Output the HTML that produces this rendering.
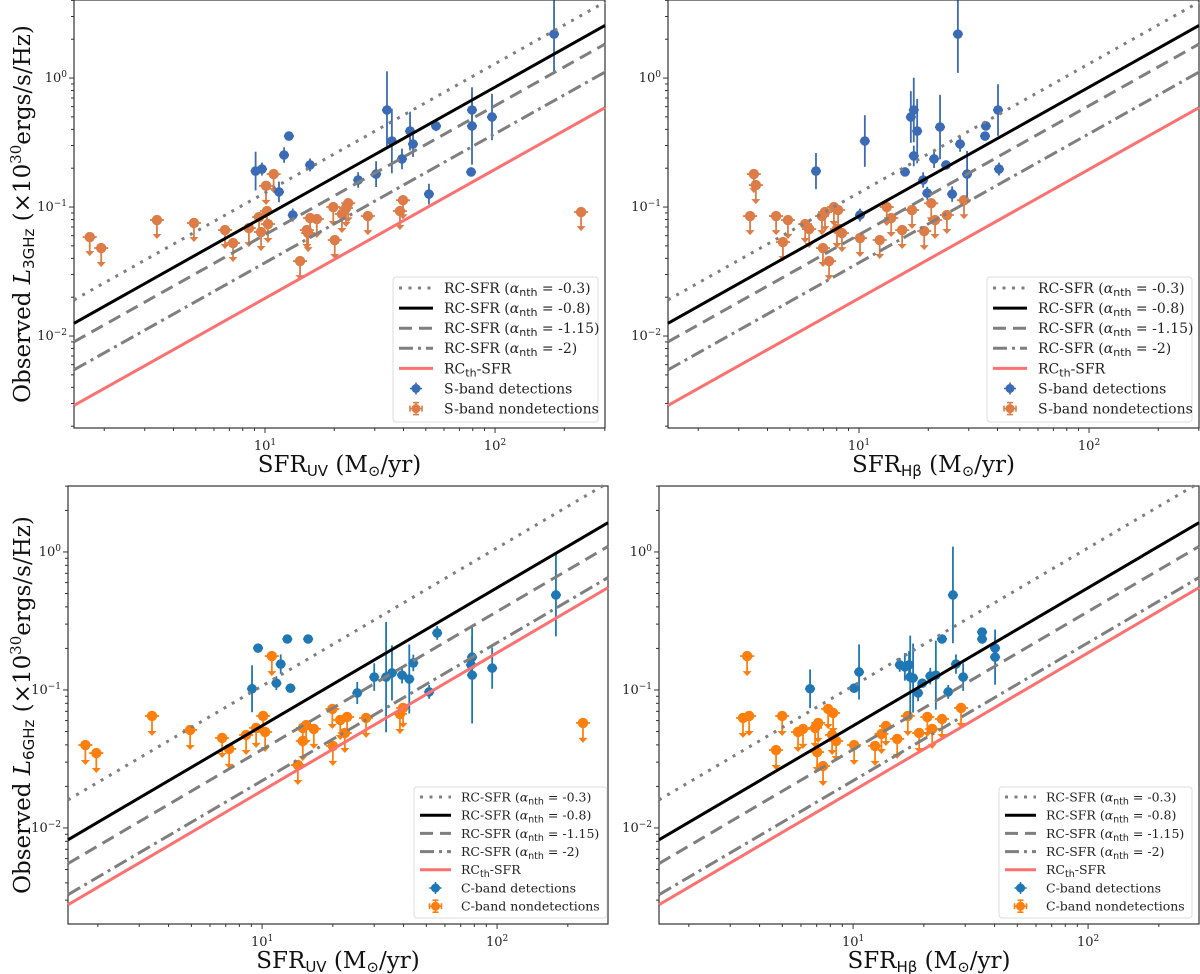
<!DOCTYPE html>
<html><head><meta charset="utf-8">
<style>
html,body{margin:0;padding:0;background:#fff;}
svg{display:block;font-family:"DejaVu Serif","Liberation Serif",serif;}
</style></head>
<body>
<svg id="fig" width="1200" height="974" viewBox="0 0 1200 974" xmlns="http://www.w3.org/2000/svg"></svg>
<script>
// ===== Data =====
// Relation coefficients L = k * SFR for each model line
const lineLabels = ["-0.3","-0.8","-1.15","-2"];
const topLineK = [0.0129,0.0085,0.0061,0.0037,0.00196];
const botLineK = [0.0107,0.0055,0.0037,0.0022,0.00186];

// Top-left: S-band vs SFR_UV
const tlDetX = [180.5,12.7,12.1,15.7,9.1,9.7,11.5,13.2,25.4,30.4,33.9,35.6,39.4,42.7,44.0,55.4,79.4,79.4,97,78.7,51.6];
const tlDetY = [2.19,0.355,0.253,0.212,0.190,0.197,0.131,0.0867,0.162,0.180,0.565,0.325,0.236,0.388,0.308,0.425,0.565,0.425,0.499,0.187,0.126];
const tlDetErr = [0.3,0.03,0.06,0.05,0.15,0.05,0.08,0.05,0.06,0.1,0.3,0.25,0.08,0.15,0.1,0.04,0.12,0.3,0.18,0.02,0.08];
const tlNonX = [1.73,1.94,3.39,4.91,6.70,7.26,8.51,9.42,9.61,10.2,10.1,10.9,10.3,14.2,15.2,15.7,16.8,15.4,19.8,23.0,22.5,21.6,20.1,28.0,39.8,38.6,236.6];
const tlNonY = [0.0585,0.0481,0.0793,0.0752,0.0663,0.0526,0.0687,0.0836,0.0640,0.0931,0.146,0.180,0.0738,0.0381,0.0663,0.0822,0.0807,0.0628,0.1,0.107,0.0982,0.0883,0.0555,0.0851,0.113,0.0931,0.0914];

// Top-right: S-band vs SFR_Hbeta
const trDetX = [26.9,17.3,16.8,17.9,17.3,10.6,6.50,15.85,19.0,19.8,10.1,21.2,22.5,23.9,27.5,29.5,25.4,35.6,35.3,40.2,40.6];
const trDetY = [2.19,0.565,0.499,0.388,0.249,0.325,0.190,0.187,0.162,0.128,0.0867,0.236,0.417,0.212,0.308,0.180,0.126,0.425,0.355,0.565,0.197];
const trDetErr = [0.3,0.25,0.2,0.25,0.08,0.2,0.14,0.02,0.06,0.05,0.05,0.07,0.25,0.03,0.06,0.18,0.06,0.02,0.03,0.2,0.05];
const trNonX = [3.49,3.56,3.36,4.36,4.91,4.67,5.83,6.07,6.90,7.11,7.78,8.11,8.02,8.43,6.97,7.41,10.1,12.3,13.2,13.8,15.4,17.0,19.2,20.6,21.4,24.1,28.6];
const trNonY = [0.180,0.148,0.0851,0.0851,0.0793,0.0535,0.0738,0.0675,0.0851,0.0914,0.1,0.0948,0.0675,0.0628,0.0481,0.0381,0.0575,0.0555,0.1,0.0822,0.0663,0.0948,0.0651,0.107,0.0793,0.0867,0.113];

// Bottom-left: C-band vs SFR_UV
const blDetX = [178,55.6,12.8,15.7,9.61,12.0,11.5,13.2,9.06,25.4,30.0,33.7,35.7,39.4,42.3,44.0,51.4,78.3,77.5,78.3,95.3];
const blDetY = [0.488,0.259,0.234,0.234,0.201,0.154,0.112,0.103,0.102,0.0951,0.124,0.124,0.133,0.128,0.120,0.157,0.0968,0.173,0.152,0.128,0.144];
const blDetErr = [0.3,0.05,0.02,0.02,0.02,0.07,0.05,0.02,0.17,0.08,0.1,0.4,0.2,0.06,0.25,0.06,0.05,0.15,0.05,0.35,0.15];
const blNonX = [1.77,1.97,3.40,4.94,6.76,7.24,8.55,10.1,11.0,9.43,10.3,14.2,14.9,15.4,14.9,16.6,19.9,21.5,23.0,22.5,20.0,27.7,39.8,38.6,232];
const blNonY = [0.0399,0.0349,0.0648,0.0513,0.0449,0.0374,0.0472,0.0648,0.176,0.0531,0.0496,0.0286,0.0531,0.0557,0.0427,0.0522,0.0728,0.0606,0.0637,0.0488,0.0393,0.0627,0.0741,0.0670,0.0577];

// Bottom-right: C-band vs SFR_Hbeta
const brDetX = [26.6,23.9,35.4,35.4,40.2,40.2,10.6,10.1,6.56,15.8,16.6,17.3,17.5,18.0,19.7,18.9,21.3,22.5,27.4,29.4,25.4];
const brDetY = [0.488,0.234,0.263,0.234,0.201,0.173,0.135,0.103,0.102,0.152,0.147,0.152,0.124,0.122,0.112,0.0951,0.126,0.128,0.154,0.124,0.0968];
const brDetErr = [0.35,0.02,0.02,0.02,0.08,0.2,0.2,0.02,0.14,0.05,0.1,0.1,0.3,0.25,0.03,0.06,0.06,0.25,0.07,0.1,0.05];
const brNonX = [3.54,3.40,3.61,4.99,4.70,5.83,6.12,6.89,7.10,7.83,8.22,8.14,8.47,7.03,7.45,10.1,12.4,13.2,13.8,15.4,17.1,19.1,20.7,21.7,23.9,28.8];
const brNonY = [0.176,0.0627,0.0648,0.0648,0.0367,0.0496,0.0522,0.0531,0.0577,0.0728,0.0681,0.0472,0.0427,0.0355,0.0281,0.0399,0.0393,0.0480,0.0548,0.0442,0.0648,0.0488,0.0637,0.0522,0.0616,0.0741];

// ===== Rendering =====
const NS = "http://www.w3.org/2000/svg";
const svg = document.getElementById('fig');
function mk(tag, attrs, parent){
  const e = document.createElementNS(NS, tag);
  for (const k in attrs) e.setAttribute(k, attrs[k]);
  (parent||svg).appendChild(e);
  return e;
}
const lineStyles = [
  {stroke:"#7f7f7f", dash:"3,6.5", cap:"butt"},
  {stroke:"#000", dash:"", cap:"butt"},
  {stroke:"#7f7f7f", dash:"13,7", cap:"butt"},
  {stroke:"#7f7f7f", dash:"14,5,3,5", cap:"butt"},
  {stroke:"#ff7070", dash:"", cap:"butt"}
];

function panel(p){
  const g = mk('g', {});
  
  
  const sx = v => p.x0 + (Math.log10(v) - p.lxmin) / (p.lxmax - p.lxmin) * (p.x1 - p.x0);
  const sy = v => p.y1 - (Math.log10(v) - p.lymin) / (p.lymax - p.lymin) * (p.y1 - p.y0);
  const cid = 'clip-' + p.id;
  const cp = mk('clipPath', {id: cid}, g);
  mk('rect', {x:p.x0, y:p.y0, width:p.x1-p.x0, height:p.y1-p.y0}, cp);
  const plot = mk('g', {'clip-path':'url(#'+cid+')'}, g);
  
  
  // relation lines
  const xa = Math.pow(10, p.lxmin), xb = Math.pow(10, p.lxmax);
  p.k.forEach((k, i) => {
    const st = lineStyles[i];
    const l = mk('line', {x1:sx(xa), y1:sy(k*xa), x2:sx(xb), y2:sy(k*xb), stroke:st.stroke, 'stroke-width':3, 'stroke-dasharray':st.dash});
    
    
  });
  // nondetections
  p.nx.forEach((x, i) => {
    const cx = sx(x), cy = sy(p.ny[i]);
    const m = mk('g', {}, plot);
    
    
    mk('line', {x1:cx-7, y1:cy, x2:cx+7, y2:cy, stroke:p.c2, 'stroke-width':1.8}, m);
    mk('line', {x1:cx, y1:cy, x2:cx, y2:cy+p.arr-4, stroke:p.c2, 'stroke-width':1.8}, m);
    mk('path', {d:`M${cx-4.5},${cy+p.arr-5} L${cx+4.5},${cy+p.arr-5} L${cx},${cy+p.arr} Z`, fill:p.c2}, m);
    mk('circle', {cx:cx, cy:cy, r:5.2, fill:p.c2}, m);
  });
  // detections
  p.dx.forEach((x, i) => {
    const y = p.dy[i], e = p.de[i];
    const cx = sx(x), cy = sy(y);
    const m = mk('g', {}, plot);
    
    
    mk('line', {x1:cx, y1:sy(y*Math.pow(10,e)), x2:cx, y2:sy(y/Math.pow(10,e)), stroke:p.c1, 'stroke-width':1.8}, m);
    mk('line', {x1:cx-5, y1:cy, x2:cx+5, y2:cy, stroke:p.c1, 'stroke-width':1.8}, m);
    mk('circle', {cx:cx, cy:cy, r:4.8, fill:p.c1}, m);
  });
  // frame
  const fr = mk('rect', {x:p.x0, y:p.y0, width:p.x1-p.x0, height:p.y1-p.y0, fill:'none', stroke:'#333', 'stroke-width':1.2}, g);
  
  
  // x ticks
  for (let d = 0; d <= 3; d++) for (let m = 1; m <= 9; m++) {
    const v = m * Math.pow(10, d);
    const lv = Math.log10(v);
    if (lv < p.lxmin || lv > p.lxmax) continue;
    const x = sx(v), len = m === 1 ? 5 : 3;
    mk('line', {x1:x, y1:p.y1, x2:x, y2:p.y1+len, stroke:'#333', 'stroke-width':1}, g);
    if (m === 1) {
      const t = mk('text', {x:x, y:p.y1+22, 'font-size':13, 'text-anchor':'middle', fill:'#222'}, g);
      
      
      t.innerHTML = '10<tspan dy="-5" font-size="9">' + d + '</tspan>';
    }
  }
  // y ticks
  for (let d = -3; d <= 1; d++) for (let m = 1; m <= 9; m++) {
    const v = m * Math.pow(10, d);
    const lv = Math.log10(v);
    if (lv < p.lymin || lv > p.lymax) continue;
    const y = sy(v), len = m === 1 ? 5 : 3;
    mk('line', {x1:p.x0-len, y1:y, x2:p.x0, y2:y, stroke:'#333', 'stroke-width':1}, g);
    if (m === 1) {
      const t = mk('text', {x:p.x0-7, y:y+4, 'font-size':13, 'text-anchor':'end', fill:'#222'}, g);
      
      
      t.innerHTML = '10<tspan dy="-5" font-size="9">' + (d < 0 ? '\u2212' + (-d) : d) + '</tspan>';
    }
  }
  // x label
  const xl = mk('text', {x:(p.x0+p.x1)/2, y:p.y1+44, 'font-size':23, 'text-anchor':'middle', fill:'#111'}, g);
  
  
  xl.innerHTML = 'SFR<tspan font-family="DejaVu Sans, sans-serif" font-size="15" dy="4">' + p.xsub + '</tspan><tspan dy="-4"> (M</tspan><tspan font-size="15" dy="4">\u2299</tspan><tspan dy="-4">/yr)</tspan>';
  // y label
  if (p.ylab) {
    const cy = (p.y0 + p.y1) / 2;
    const yl = mk('text', {x:0, y:0, 'font-size':23, 'text-anchor':'middle', fill:'#111', transform:`translate(30,${cy}) rotate(-90)`}, g);
    
    
    yl.innerHTML = 'Observed <tspan font-style="italic">L</tspan><tspan font-family="DejaVu Sans, sans-serif" font-size="15" dy="4">' + p.ylab + '</tspan><tspan dy="-4"> (\u00d710</tspan><tspan font-size="15" dy="-9">30</tspan><tspan dy="9">ergs/s/Hz)</tspan>';
  }
  // legend
  const L = p.leg;
  const lg = mk('g', {}, g);
  
  
  mk('rect', {x:L.x, y:L.y, width:L.w, height:L.h, rx:3, fill:'#fff', 'fill-opacity':0.85, stroke:'#ddd', 'stroke-width':1}, lg);
  const rows = lineLabels.map(s => 'RC-SFR (<tspan font-style="italic">\u03b1</tspan><tspan font-family="DejaVu Sans, sans-serif" font-size="' + (L.fs-3) + '" dy="3">nth</tspan><tspan dy="-3"> = ' + s + ')</tspan>');
  rows.push('RC<tspan font-family="DejaVu Sans, sans-serif" font-size="' + (L.fs-3) + '" dy="3">th</tspan><tspan dy="-3">-SFR</tspan>');
  rows.push(p.band + '-band detections');
  rows.push(p.band + '-band nondetections');
  rows.forEach((r, i) => {
    const ry = L.y + L.top + i * L.dy;
    const e = mk('g', {}, lg);
    
    
    const lx1 = L.x + 6, lx2 = L.x + L.sw;
    if (i < 5) {
      const st = lineStyles[i];
      mk('line', {x1:lx1, y1:ry, x2:lx2, y2:ry, stroke:st.stroke, 'stroke-width':3, 'stroke-dasharray':st.dash}, e);
    } else {
      const c = i === 5 ? p.c1 : p.c2, mx = (lx1 + lx2) / 2;
      mk('line', {x1:mx, y1:ry-6, x2:mx, y2:ry+6, stroke:c, 'stroke-width':1.6}, e);
      mk('line', {x1:mx-6, y1:ry, x2:mx+6, y2:ry, stroke:c, 'stroke-width':1.6}, e);
      if (i === 6) {
        mk('line', {x1:mx-3, y1:ry-6, x2:mx+3, y2:ry-6, stroke:c, 'stroke-width':1.6}, e);
        mk('line', {x1:mx-3, y1:ry+6, x2:mx+3, y2:ry+6, stroke:c, 'stroke-width':1.6}, e);
        mk('line', {x1:mx-6, y1:ry-3, x2:mx-6, y2:ry+3, stroke:c, 'stroke-width':1.6}, e);
        mk('line', {x1:mx+6, y1:ry-3, x2:mx+6, y2:ry+3, stroke:c, 'stroke-width':1.6}, e);
      }
      mk('circle', {cx:mx, cy:ry, r:4.5, fill:c}, e);
    }
    const t = mk('text', {x:L.x + L.tx, y:ry + L.fs*0.35, 'font-size':L.fs, fill:'#222'}, e);
    t.innerHTML = r;
  });
}

const c1top = "#3b6bb4", c2top = "#dd7c46";
const c1bot = "#1f77b4", c2bot = "#ff7f0e";
panel({id:'tl', name:'panel-3ghz-uv', x0:74, x1:605, y0:0, y1:428, lxmin:0.1696, lxmax:2.478, lymin:-2.713, lymax:0.605,
  k:topLineK, dx:tlDetX, dy:tlDetY, de:tlDetErr, nx:tlNonX, ny:tlNonY, c1:c1top, c2:c2top, arr:19,
  xsub:'UV', ylab:'3GHz', band:'S', leg:{x:393, y:277, w:205, h:145, top:11, dy:20.1, fs:14, sw:40, tx:51}});
panel({id:'tr', name:'panel-3ghz-hbeta', x0:668, x1:1199, y0:0, y1:428, lxmin:0.1696, lxmax:2.478, lymin:-2.713, lymax:0.605,
  k:topLineK, dx:trDetX, dy:trDetY, de:trDetErr, nx:trNonX, ny:trNonY, c1:c1top, c2:c2top, arr:19,
  xsub:'H\u03b2', ylab:null, band:'S', leg:{x:987, y:277, w:205, h:145, top:11, dy:20.1, fs:14, sw:40, tx:51}});
panel({id:'bl', name:'panel-6ghz-uv', x0:68, x1:608, y0:486, y1:924, lxmin:0.174, lxmax:2.472, lymin:-2.696, lymax:0.478,
  k:botLineK, dx:blDetX, dy:blDetY, de:blDetErr, nx:blNonX, ny:blNonY, c1:c1bot, c2:c2bot, arr:20,
  xsub:'UV', ylab:'6GHz', band:'C', leg:{x:414, y:787, w:193, h:131, top:10, dy:18.2, fs:12.5, sw:37, tx:47}});
panel({id:'br', name:'panel-6ghz-hbeta', x0:659, x1:1199, y0:486, y1:924, lxmin:0.174, lxmax:2.472, lymin:-2.696, lymax:0.478,
  k:botLineK, dx:brDetX, dy:brDetY, de:brDetErr, nx:brNonX, ny:brNonY, c1:c1bot, c2:c2bot, arr:20,
  xsub:'H\u03b2', ylab:null, band:'C', leg:{x:999, y:787, w:193, h:131, top:10, dy:18.2, fs:12.5, sw:37, tx:47}});
</script>
</body></html>
